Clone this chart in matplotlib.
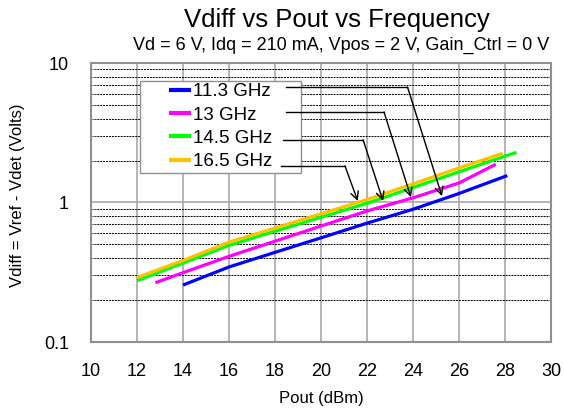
import numpy as np
import matplotlib
matplotlib.use("Agg")
import matplotlib.pyplot as plt
from matplotlib.patches import Rectangle
from matplotlib.ticker import FixedLocator, NullFormatter

plt.rcParams['font.family'] = ['Liberation Sans', 'DejaVu Sans']

# data (Pout in dBm, Vdiff in volts)
labels = ["11.3 GHz", "13 GHz", "14.5 GHz", "16.5 GHz"]
colors = ["#0000FF", "#FF00FF", "#00FF00", "#FFC000"]

pout_113 = [14, 16, 18, 20, 22, 24, 26, 28.1]
vdiff_113 = [0.256, 0.345, 0.439, 0.558, 0.711, 0.894, 1.16, 1.56]

pout_13 = [12.8, 14, 16, 18, 20, 22, 24, 26, 27.6]
vdiff_13 = [0.266, 0.314, 0.411, 0.528, 0.678, 0.869, 1.08, 1.38, 1.88]

pout_145 = [12, 14, 16, 18, 20, 22, 24, 26, 28.5]
vdiff_145 = [0.275, 0.368, 0.493, 0.622, 0.784, 0.987, 1.28, 1.66, 2.29]

pout_165 = [12, 14, 16, 18, 20, 22, 24, 26, 27.9]
vdiff_165 = [0.29, 0.384, 0.52, 0.656, 0.83, 1.05, 1.36, 1.77, 2.25]

series = [(pout_113, vdiff_113), (pout_13, vdiff_13),
          (pout_145, vdiff_145), (pout_165, vdiff_165)]

# callout lines: start, kink, arrow tip (data coords)
callouts = [
    [(18.48, 6.73), (23.76, 6.73), (25.26, 1.11)],
    [(18.48, 4.45), (22.74, 4.45), (23.91, 1.09)],
    [(18.33, 2.81), (21.83, 2.81), (22.70, 1.025)],
    [(18.26, 1.83), (21.04, 1.83), (21.60, 1.025)],
]

W, H = 564, 415
fig = plt.figure(figsize=(W / 100, H / 100), dpi=100)
ax = fig.add_axes([91 / W, 1 - 342 / H, (551 - 91) / W, (342 - 63) / H])

ax.set_yscale("log")
ax.set_xlim(10, 30)
ax.set_ylim(0.1, 10)
ax.set_xticks(np.arange(10, 31, 2))
ax.yaxis.set_major_locator(FixedLocator([0.1, 1, 10]))
ax.set_yticklabels(["0.1", "1", "10"])
minor = [m * d for d in (0.1, 1) for m in range(2, 10)]
ax.yaxis.set_minor_locator(FixedLocator(minor))
ax.yaxis.set_minor_formatter(NullFormatter())

ax.grid(True, axis="x", which="major", color="#a8a8a8", lw=1.2)
ax.grid(True, axis="y", which="major", color="#a8a8a8", lw=1.2)
ax.grid(True, axis="y", which="minor", color="black", lw=0.7,
        linestyle=(0, (2, 1)))
ax.set_axisbelow(True)

for s in ax.spines.values():
    s.set_color("#909090")
    s.set_linewidth(1.5)

ax.tick_params(axis="both", which="both", direction="in", colors="#909090",
               labelcolor="black", labelsize=13)
ax.tick_params(axis="y", which="major", length=0, pad=16)
ax.tick_params(axis="y", which="minor", length=3)
ax.tick_params(axis="x", length=0, pad=15)

handles = []
for (x, y), c, lab in zip(series, colors, labels):
    h, = ax.plot(x, y, color=c, lw=2.3, label=lab, solid_capstyle="butt")
    handles.append(h)

# legend box
box = Rectangle((140 / W, 1 - 172.7 / H), (301 - 140) / W, (172.7 - 80.7) / H,
                transform=fig.transFigure, facecolor="white",
                edgecolor="#909090", lw=1.0, zorder=3)
ax.add_patch(box)
leg = ax.legend(handles=handles, loc="center",
                bbox_to_anchor=((140 + 301) / 2 / W, 1 - (80.7 + 172.7) / 2 / H),
                bbox_transform=fig.transFigure,
                frameon=False, fontsize=13.5, handlelength=1.2,
                handletextpad=0.1, labelspacing=0.33, borderpad=0)
leg.set_zorder(4)
for lh in leg.legend_handles:
    lh.set_linewidth(3)

for pts in callouts:
    (x0, y0), (x1, y1), (x2, y2) = pts
    ax.plot([x0, x1], [y0, y1], color="black", lw=1.0, zorder=6)
    ax.annotate("", xy=(x2, y2), xytext=(x1, y1), zorder=6,
                arrowprops=dict(arrowstyle="->", color="black", lw=1.0,
                                shrinkA=0, shrinkB=0, mutation_scale=14))

fig.text(337 / W, 1 - 20 / H, "Vdiff vs Pout vs Frequency", ha="center",
         va="center", fontsize=18.5)
fig.text(341 / W, 1 - 45 / H, "Vd = 6 V, Idq = 210 mA, Vpos = 2 V, Gain_Ctrl = 0 V",
         ha="center", va="center", fontsize=13)
fig.text(321 / W, 1 - 398 / H, "Pout (dBm)", ha="center", va="center",
         fontsize=12)
fig.text(18 / W, 1 - 195 / H, "Vdiff = Vref - Vdet (Volts)", ha="center",
         va="center", rotation=90, fontsize=12)

fig.savefig("out.png", dpi=100)
